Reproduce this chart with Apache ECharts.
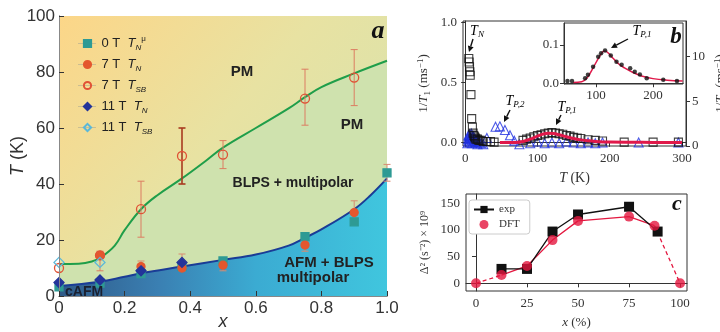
<!DOCTYPE html>
<html><head><meta charset="utf-8">
<script src="https://cdn.jsdelivr.net/npm/echarts@6/dist/echarts.min.js"></script>
<style>html,body{margin:0;padding:0;background:#fff}#c{width:720px;height:332px}</style>
</head><body><div id="c"></div><script>
// ---------- Panel a data ----------
var greenCurve = [[0,11.4],[0.06,11.5],[0.1,12.3],[0.13,14],[0.17,18],[0.2,23.5],[0.25,31],[0.3,36],[0.375,42],[0.45,48.5],[0.5,53],[0.6,60],[0.7,67],[0.75,71],[0.8,74.6],[0.9,79.5],[1.0,84]];
var blueCurve = [[0,3.6],[0.125,5.1],[0.2,6.9],[0.25,8.1],[0.375,10.5],[0.5,12.9],[0.6,14.8],[0.7,18],[0.75,20.8],[0.8,23.8],[0.9,31],[0.95,36],[1.0,42]];
var topEdge = [[0,100],[1,100]];
var tnMu0T = [[0,3.3],[0.125,4.6],[0.25,8],[0.375,10.5],[0.5,12.5],[0.75,21.2],[0.9,26.5],[1.0,44]];
var tn7T = [[0.125,14.5],[0.25,10.5],[0.375,10],[0.5,11],[0.75,18.2],[0.9,29.8]];
var tsb7T = [[0,10],[0.125,14.5],[0.25,31],[0.375,50],[0.5,50.5],[0.75,70.5],[0.9,78]];
var tn11T = [[0,4.8],[0.125,5.7],[0.25,9],[0.375,12]];
var tsb11T = [[0,12],[0.125,12]];
var errSB = [[0.25,21,41],[0.5,45.5,55.5],[0.75,61,81],[0.9,68,88],[0.125,9,16]];
var errDark = [[0.375,40,60]];
var errSmall = [[0.25,9,12.5],[0.375,9,15],[0.5,9,13],[0.9,27,34],[1.0,41,47],[0.75,16,19]];
// ---------- Panel b data ----------
var squaresB = [[5,0.70],[5.5,0.67],[6,0.63],[6.5,0.59],[7,0.56],[8,0.40],[9,0.20],[10,0.13],[11,0.08],[12,0.06],[13,0.05],[14,0.04],[15,0.03],[17,0.03],[19,0.02],[22,0.02],[25,0.01],[30,0.01],[35,0.01],[40,0.005],[80,0.02],[85,0.03],[90,0.04],[95,0.05],[100,0.06],[105,0.065],[110,0.075],[115,0.08],[120,0.085],[125,0.08],[130,0.075],[135,0.07],[140,0.06],[145,0.055],[150,0.045],[155,0.04],[160,0.035],[170,0.025],[180,0.02],[190,0.015],[220,0.005],[260,0.005],[295,0.005]];
var trianglesB = [[3,0.3],[4,0.8],[4.5,1.2],[5,1.1],[5.5,0.5],[6,1.3],[6.5,0.9],[7,1.0],[7.5,0.4],[8,0.7],[8.5,1.4],[9,1.2],[9.5,0.3],[10,0.9],[11,0.6],[11.5,1.1],[12,0.8],[13,0.5],[14,0.7],[15,0.4],[16,0.6],[17,0.2],[18,0.5],[20,0.4],[22,0.3],[25,0.2],[30,0.9],[42,2.15],[48,2.2],[55,1.8],[62,1.2],[68,0.6],[75,0.2],[90,0.3],[100,0.5],[110,0.3],[120,0.4],[130,0.3],[140,0.5],[150,0.4],[160,0.3],[170,0.4],[180,0.3],[190,0.4],[240,0.4],[295,0.4]];
var redFitB = [[48,0.003],[70,0.003],[80,0.01],[90,0.03],[100,0.055],[108,0.072],[115,0.078],[122,0.076],[130,0.066],[140,0.05],[150,0.035],[160,0.024],[170,0.016],[180,0.011],[200,0.006],[230,0.004],[260,0.003],[300,0.003]];
var insetDots = [[50,0.006],[58,0.006],[81,0.013],[86,0.022],[95,0.043],[104,0.069],[109,0.078],[116,0.085],[126,0.072],[136,0.056],[145,0.048],[160,0.039],[168,0.030],[177,0.023],[189,0.013],[218,0.009],[242,0.006]];
var redFitInset = [[60,0.002],[75,0.004],[85,0.015],[95,0.04],[105,0.067],[112,0.082],[116,0.084],[122,0.078],[130,0.065],[140,0.05],[150,0.04],[165,0.028],[180,0.019],[200,0.012],[225,0.008],[252,0.006]];
var xTicksB = [0,100,200,300], yTicksBL = [0,0.5,1.0], yTicksBR = [0,5,10];
var xTicksIn = [100,200], yTicksIn = [0,0.1];
// ---------- Panel c data ----------
var expC = [[12.5,27],[25,27],[37.5,97],[50,129],[75,143.5],[89,97]];
var dftC = [[0,0],[12.5,15.5],[25,32.5],[37.5,81],[50,117],[75,125],[87.5,108],[100,0]];
var xTicksC = [0,25,50,75,100], yTicksC = [0,50,100,150];

var SANS = 'Liberation Sans', SERIF = 'Liberation Serif';
var chart = echarts.init(document.getElementById('c'), null, {renderer:'canvas'});

function errSeries(data, color, w){
  return {type:'custom', xAxisIndex:0, yAxisIndex:0, z:4, silent:true, clip:false, data:data,
    renderItem:function(params, api){
      var x=api.value(0), p1=api.coord([x,api.value(1)]), p2=api.coord([x,api.value(2)]);
      var st={stroke:color, lineWidth:w}, c=3.5;
      return {type:'group', children:[
        {type:'line', shape:{x1:p1[0],y1:p1[1],x2:p2[0],y2:p2[1]}, style:st},
        {type:'line', shape:{x1:p1[0]-c,y1:p1[1],x2:p1[0]+c,y2:p1[1]}, style:st},
        {type:'line', shape:{x1:p2[0]-c,y1:p2[1],x2:p2[0]+c,y2:p2[1]}, style:st}]};
    }};
}
function pts(name, data, symbol, size, fill, border){
  return {name:name, type:'line', xAxisIndex:0, yAxisIndex:0, z:5, clip:false, data:data,
    symbol:symbol, symbolSize:size, showAllSymbol:true,
    lineStyle:{opacity:0}, itemStyle:{color:fill, borderColor:border, borderWidth:1.3}};
}
function arrow(x1,y1,x2,y2){
  var a=Math.atan2(y2-y1,x2-x1), L=6, W=3;
  var bx=x2-L*Math.cos(a), by=y2-L*Math.sin(a);
  return {type:'group', z:50, children:[
    {type:'line', shape:{x1:x1,y1:y1,x2:bx,y2:by}, style:{stroke:'#111', lineWidth:1.4}},
    {type:'polygon', shape:{points:[[x2,y2],[bx+W*Math.sin(a),by-W*Math.cos(a)],[bx-W*Math.sin(a),by+W*Math.cos(a)]]}, style:{fill:'#111'}}]};
}
var richSerif = {i:{fontFamily:SERIF,fontStyle:'italic',fontSize:14,color:'#333'}, s:{fontFamily:SERIF,fontStyle:'italic',fontSize:9,color:'#333',padding:[8,0,0,0]}};
function serifText(t,x,y){ return {type:'text', z:50, style:{text:t, x:x, y:y, rich:richSerif, textAlign:'center', textVerticalAlign:'middle'}}; }
function boldText(t,x,y,fs,col){ return {type:'text', z:50, style:{text:t, x:x, y:y, font:'bold '+fs+'px '+SANS, fill:col||'#222', textAlign:'center', textVerticalAlign:'middle'}}; }

var legendMap = {
  'n0':'{n|0 T  }{i|T}{s|N}{u|μ}',
  'n7':'{n|7 T  }{i|T}{s|N}',
  's7':'{n|7 T  }{i|T}{s|SB}',
  'n11':'{n|11 T  }{i|T}{s|N}',
  's11':'{n|11 T  }{i|T}{s|SB}'
};
var serifAxisLabel = {fontFamily:SERIF, fontSize:13, color:'#333'};
var darkLine = {lineStyle:{color:'#333', width:1}};
var axisNameRich = {
  i:{fontFamily:SERIF, fontStyle:'italic', fontSize:13, color:'#333'},
  s:{fontFamily:SERIF, fontSize:9, color:'#333', padding:[7,0,0,0]},
  u:{fontFamily:SERIF, fontSize:9, color:'#333', padding:[0,0,7,0]}};

var option = {
  animation:false,
  backgroundColor:'#fff',
  grid:[
    {left:59, top:16, width:328, height:280, outerBoundsMode:'none'},
    {left:463, top:21, width:223, height:125, show:true, borderColor:'#333', borderWidth:1, outerBoundsMode:'none'},
    {left:564, top:23, width:119, height:61, show:true, backgroundColor:'#fff', borderColor:'#333', borderWidth:1, outerBoundsMode:'none'},
    {left:466, top:194, width:221, height:97, show:true, borderColor:'#333', borderWidth:1, outerBoundsMode:'none'}
  ],
  legend:[
    {data:['n0','n7','s7','n11','s11'], orient:'vertical', left:78, top:35, padding:0, itemGap:6, itemWidth:18, itemHeight:9,
     formatter:function(n){return legendMap[n];},
     lineStyle:{color:'#a0a090', width:1, type:'dotted', opacity:1},
     textStyle:{rich:{
       n:{fontFamily:SANS, fontSize:13, color:'#222'},
       i:{fontFamily:SANS, fontSize:13, fontStyle:'italic', color:'#222'},
       s:{fontFamily:SANS, fontSize:8, fontStyle:'italic', color:'#222', padding:[9,0,0,0]},
       u:{fontFamily:SANS, fontSize:8, color:'#222', padding:[0,0,9,0]}}}},
    {data:['exp','DFT'], orient:'vertical', left:469, top:200, itemGap:4, itemWidth:20, itemHeight:9,
     backgroundColor:'#fff', borderColor:'#ccc', borderWidth:1, borderRadius:3, padding:[4,10,4,4],
     textStyle:{fontFamily:SERIF, fontSize:11, color:'#333'}}
  ],
  xAxis:[
    {gridIndex:0, type:'value', min:0, max:1, interval:0.2, z:10,
     axisLine:{lineStyle:{color:'#777', width:1}}, axisTick:{inside:true, length:5, lineStyle:{color:'#333'}},
     splitLine:{show:false},
     axisLabel:{fontFamily:SANS, fontSize:17, color:'#333', margin:4, formatter:function(v){return v===0?'0':v.toFixed(1);}},
     name:'x', nameLocation:'middle', nameGap:17, nameMoveOverlap:false, nameTextStyle:{fontFamily:SANS, fontStyle:'italic', fontSize:18, color:'#333'}},
    {gridIndex:0, type:'value', min:0, max:1, position:'top', z:10, axisLine:{lineStyle:{color:'#888'}}, axisTick:{show:false}, axisLabel:{show:false}, splitLine:{show:false}},
    {gridIndex:1, type:'value', min:-3, max:305.5, axisLine:darkLine, splitLine:{show:false},
     axisTick:{customValues:xTicksB, length:4, lineStyle:{color:'#333'}},
     axisLabel:Object.assign({customValues:xTicksB, margin:6}, serifAxisLabel),
     name:'{i|T} (K)', nameLocation:'middle', nameGap:25,
     nameTextStyle:{fontFamily:SERIF, fontSize:14, color:'#333', rich:{i:{fontFamily:SERIF, fontStyle:'italic', fontSize:14, color:'#333'}}}},
    {gridIndex:2, type:'value', min:44, max:252.6, axisLine:darkLine, splitLine:{show:false},
     axisTick:{customValues:xTicksIn, length:4, lineStyle:{color:'#333'}},
     axisLabel:Object.assign({customValues:xTicksIn, margin:5}, serifAxisLabel)},
    {gridIndex:3, type:'value', min:-4.9, max:103.4, axisLine:darkLine, splitLine:{show:false},
     axisTick:{customValues:xTicksC, length:4, lineStyle:{color:'#333'}},
     axisLabel:Object.assign({customValues:xTicksC, margin:6}, serifAxisLabel),
     name:'{i|x} (%)', nameLocation:'middle', nameGap:25,
     nameTextStyle:{fontFamily:SERIF, fontSize:13, color:'#333', rich:{i:{fontFamily:SERIF, fontStyle:'italic', fontSize:13, color:'#333'}}}}
  ],
  yAxis:[
    {gridIndex:0, type:'value', min:0, max:100, interval:20, z:10,
     axisLine:{show:true, lineStyle:{color:'#777', width:1}}, axisTick:{show:true, inside:true, length:5, lineStyle:{color:'#333'}},
     splitLine:{show:false},
     axisLabel:{fontFamily:SANS, fontSize:17, color:'#333', margin:4},
     name:'{i|T} (K)', nameLocation:'middle', nameGap:32, nameMoveOverlap:false,
     nameTextStyle:{fontFamily:SANS, fontSize:18, color:'#333', rich:{i:{fontFamily:SANS, fontStyle:'italic', fontSize:18, color:'#333'}}}},
    {gridIndex:0, type:'value', min:0, max:100, position:'right', z:10, axisLine:{show:true, lineStyle:{color:'#888'}}, axisTick:{show:false}, axisLabel:{show:false}, splitLine:{show:false}},
    {gridIndex:1, type:'value', min:-0.027, max:1.011, axisLine:Object.assign({show:true},darkLine), splitLine:{show:false},
     axisTick:{show:true, customValues:yTicksBL, length:4, lineStyle:{color:'#333'}},
     axisLabel:Object.assign({customValues:yTicksBL, margin:6, formatter:function(v){return v.toFixed(1);}}, serifAxisLabel),
     name:'1/{i|T}{s|1} (ms{u|−1})', nameLocation:'middle', nameGap:31, nameMoveOverlap:false,
     nameTextStyle:{fontFamily:SERIF, fontSize:13, color:'#333', rich:axisNameRich}},
    {gridIndex:1, type:'value', min:0, max:14, position:'right', axisLine:Object.assign({show:true},darkLine), splitLine:{show:false},
     axisTick:{show:true, customValues:yTicksBR, length:4, lineStyle:{color:'#333'}},
     axisLabel:Object.assign({customValues:yTicksBR, margin:6}, serifAxisLabel),
     name:'1/{i|T}{s|2} (ms{u|−1})', nameLocation:'middle', nameGap:27, nameRotate:90, nameMoveOverlap:false,
     nameTextStyle:{fontFamily:SERIF, fontSize:13, color:'#333', rich:axisNameRich}},
    {gridIndex:2, type:'value', min:-0.002, max:0.157, axisLine:Object.assign({show:true},darkLine), splitLine:{show:false},
     axisTick:{show:true, customValues:yTicksIn, length:4, lineStyle:{color:'#333'}},
     axisLabel:Object.assign({customValues:yTicksIn, margin:5, formatter:function(v){return v.toFixed(1);}}, serifAxisLabel)},
    {gridIndex:3, type:'value', min:-14.4, max:167.4, axisLine:Object.assign({show:true},darkLine), splitLine:{show:false},
     axisTick:{show:true, customValues:yTicksC, length:4, lineStyle:{color:'#333'}},
     axisLabel:Object.assign({customValues:yTicksC, margin:6}, serifAxisLabel),
     name:'Δ² (s⁻²) × 10⁹', nameLocation:'middle', nameGap:35,
     nameTextStyle:{fontFamily:SERIF, fontSize:12, color:'#333'}}
  ],
  series:[
    {type:'line', xAxisIndex:0, yAxisIndex:0, z:1, silent:true, data:topEdge, symbol:'none', lineStyle:{width:0, opacity:0},
     areaStyle:{opacity:1, color:{type:'linear', x:0, y:0, x2:1, y2:1, colorStops:[
       {offset:0, color:'#fcd688'},{offset:0.45, color:'#e8e2a2'},{offset:1, color:'#d3e3b0'}]}}},
    {type:'line', xAxisIndex:0, yAxisIndex:0, z:2, silent:true, data:greenCurve, smooth:0.4, symbol:'none',
     lineStyle:{color:'#1f9e4a', width:2}, areaStyle:{opacity:1, color:'#cfe2ae'}},
    {type:'line', xAxisIndex:0, yAxisIndex:0, z:3, silent:true, data:blueCurve, smooth:0.4, symbol:'none',
     lineStyle:{color:'#1a3c96', width:2},
     areaStyle:{opacity:1, color:{type:'linear', x:0, y:0, x2:1, y2:0, colorStops:[
       {offset:0, color:'#2f5a88'},{offset:0.3, color:'#3a7fb2'},{offset:0.6, color:'#3babd2'},{offset:1, color:'#40c6de'}]}}},
    errSeries(errSB, '#dc7d62', 1),
    errSeries(errDark, '#a83a20', 1.6),
    errSeries(errSmall, '#d88a70', 1),
    pts('n0', tnMu0T, 'rect', 8, '#2e9a94', '#2e9a94'),
    pts('n7', tn7T, 'circle', 8, '#e4572e', '#e4572e'),
    pts('s7', tsb7T, 'circle', 9, 'rgba(0,0,0,0)', '#e05236'),
    pts('n11', tn11T, 'diamond', 10, '#23349a', '#23349a'),
    pts('s11', tsb11T, 'diamond', 10, 'rgba(0,0,0,0)', '#5ab8da'),
    // panel b
    {type:'scatter', xAxisIndex:2, yAxisIndex:3, z:3, data:trianglesB, symbol:'triangle', symbolSize:9,
     itemStyle:{color:'rgba(0,0,0,0)', borderColor:'#1f2fe0', borderWidth:1.1}},
    {type:'scatter', xAxisIndex:2, yAxisIndex:2, z:4, data:squaresB, symbol:'rect', symbolSize:8,
     itemStyle:{color:'rgba(0,0,0,0)', borderColor:'#111', borderWidth:1.1}},
    {type:'line', xAxisIndex:2, yAxisIndex:2, z:5, data:redFitB, smooth:0.4, symbol:'none', lineStyle:{color:'#e0194a', width:3}},
    {type:'scatter', xAxisIndex:3, yAxisIndex:4, z:6, data:insetDots, symbol:'circle', symbolSize:4.5, itemStyle:{color:'#111'}},
    {type:'line', xAxisIndex:3, yAxisIndex:4, z:5, data:redFitInset, smooth:0.4, symbol:'none', lineStyle:{color:'#e0194a', width:1.5}},
    // panel c
    {name:'exp', type:'line', xAxisIndex:4, yAxisIndex:5, z:5, data:expC, symbol:'rect', symbolSize:10,
     lineStyle:{color:'#111', width:1.3}, itemStyle:{color:'#111'}},
    {type:'line', xAxisIndex:4, yAxisIndex:5, z:4, data:dftC.slice(1,7), symbol:'none', lineStyle:{color:'#e3173f', width:1.3}},
    {type:'line', xAxisIndex:4, yAxisIndex:5, z:4, data:dftC.slice(0,2), symbol:'none', lineStyle:{color:'#e3173f', width:1.3, type:[4,3]}},
    {type:'line', xAxisIndex:4, yAxisIndex:5, z:4, data:dftC.slice(6), symbol:'none', lineStyle:{color:'#e3173f', width:1.3, type:[4,3]}},
    {name:'DFT', type:'scatter', xAxisIndex:4, yAxisIndex:5, z:6, data:dftC, symbol:'circle', symbolSize:10, clip:false, itemStyle:{color:'#e3173f'}}
  ],
  graphic:[
    boldText('PM', 242, 72, 15), boldText('PM', 352, 125, 15),
    boldText('BLPS + multipolar', 293, 183, 14),
    boldText('AFM + BLPS', 329, 263, 15), boldText('multipolar', 313, 278, 15),
    {type:'text', z:50, style:{text:'cAFM', x:65, y:292, font:'bold 14px '+SANS, fill:'#1a2030', textAlign:'left', textVerticalAlign:'middle'}},
    {type:'text', z:50, style:{text:'a', x:378, y:31, font:'italic bold 26px '+SERIF, fill:'#111', textAlign:'center', textVerticalAlign:'middle'}},
    {type:'text', z:50, style:{text:'b', x:676, y:37, font:'italic bold 23px '+SERIF, fill:'#111', textAlign:'center', textVerticalAlign:'middle'}},
    {type:'text', z:50, style:{text:'c', x:677, y:204, font:'italic bold 22px '+SERIF, fill:'#111', textAlign:'center', textVerticalAlign:'middle'}},
    serifText('{i|T}{s|N}', 477, 31),
    serifText('{i|T}{s|P,2}', 515, 101),
    serifText('{i|T}{s|P,1}', 567, 107),
    serifText('{i|T}{s|P,1}', 642, 31),
    arrow(473,39,469,52),
    arrow(510,110,504,122),
    arrow(561,115,556,125),
    arrow(628,39,611,48)
  ]
};
chart.setOption(option);
</script></body></html>
